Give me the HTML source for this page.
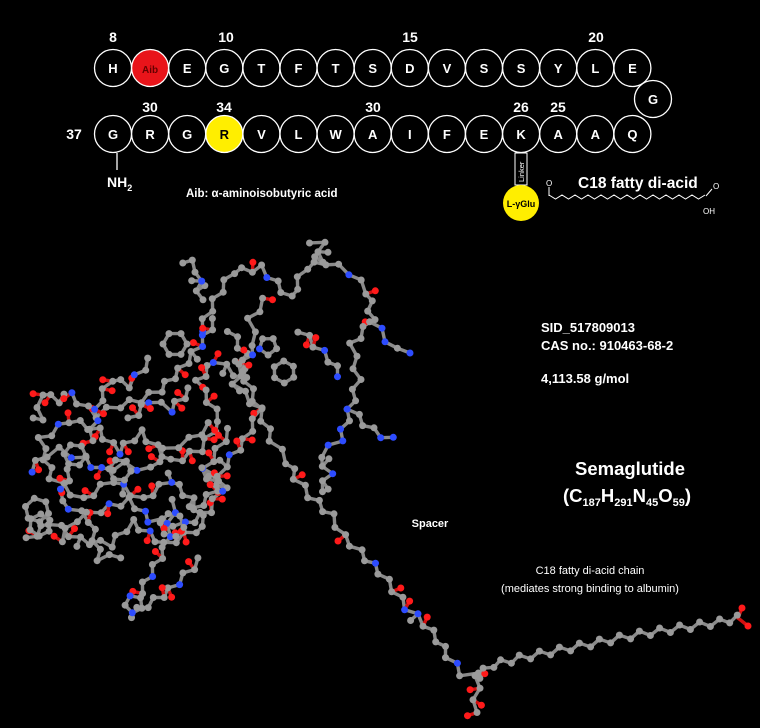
<!DOCTYPE html>
<html><head><meta charset="utf-8"><style>
html,body{margin:0;padding:0;background:#000;width:760px;height:728px;overflow:hidden}
svg{display:block}
text{font-family:"Liberation Sans",sans-serif;fill:#fff}
</style></head><body>
<svg id="s" width="760" height="728" viewBox="0 0 760 728" xmlns="http://www.w3.org/2000/svg">
<rect width="760" height="728" fill="#000"/>
<g id="seq" stroke="#fff" stroke-width="1.3" fill="none"></g>
<g id="seqt" font-weight="bold" text-anchor="middle"></g>
<g font-weight="bold" font-size="14" text-anchor="middle">
<text x="113" y="42">8</text><text x="226" y="42">10</text><text x="410" y="42">15</text><text x="596" y="42">20</text>
<text x="150" y="112">30</text><text x="224" y="112">34</text><text x="373" y="112">30</text><text x="521" y="112">26</text><text x="558" y="112">25</text>
<text x="74" y="139">37</text>
</g>
<line x1="117" y1="153" x2="117" y2="170" stroke="#fff" stroke-width="1.3"/>
<text x="107" y="187" font-size="14" font-weight="bold">NH<tspan font-size="9" dy="4">2</tspan></text>
<text x="186" y="197" font-size="11.5" font-weight="bold">Aib: α-aminoisobutyric acid</text>
<rect x="515" y="153" width="12" height="32" fill="#000" stroke="#fff" stroke-width="1"/>
<text x="0" y="0" font-size="7.5" transform="translate(524,182) rotate(-90)">Linker</text>
<ellipse cx="521" cy="203" rx="18" ry="18" fill="#ffee00"/>
<text x="521" y="207" font-size="9" font-weight="bold" text-anchor="middle" style="fill:#000">L-γGlu</text>
<polyline id="fatty" fill="none" stroke="#fff" stroke-width="1"/>
<line x1="549" y1="196" x2="549" y2="187" stroke="#fff" stroke-width="1"/>
<text x="546" y="186" font-size="8">O</text>
<text x="578" y="188" font-size="15.5" font-weight="bold">C18 fatty di-acid</text>
<line x1="706" y1="196" x2="712" y2="189" stroke="#fff" stroke-width="1"/>
<text x="713" y="189" font-size="8">O</text>
<text x="703" y="214" font-size="8">OH</text>
<g id="mol"></g>
<g font-weight="bold">
<text x="541" y="332" font-size="13">SID_517809013</text>
<text x="541" y="350" font-size="13">CAS no.: 910463-68-2</text>
<text x="541" y="383" font-size="13">4,113.58 g/mol</text>
<text x="630" y="475" font-size="18.5" text-anchor="middle">Semaglutide</text>
<text x="627" y="502" font-size="18.5" text-anchor="middle">(C<tspan font-size="11" dy="4">187</tspan><tspan dy="-4">H</tspan><tspan font-size="11" dy="4">291</tspan><tspan dy="-4">N</tspan><tspan font-size="11" dy="4">45</tspan><tspan dy="-4">O</tspan><tspan font-size="11" dy="4">59</tspan><tspan dy="-4">)</tspan></text>
<text x="430" y="527" font-size="11" text-anchor="middle">Spacer</text>
<text x="590" y="574" font-size="11" text-anchor="middle" font-weight="normal">C18 fatty di-acid chain</text>
<text x="590" y="592" font-size="11" text-anchor="middle" font-weight="normal">(mediates strong binding to albumin)</text>
</g>
</svg>
<script>
var NS="http://www.w3.org/2000/svg";
function el(p,t,a){var e=document.createElementNS(NS,t);for(var k in a)e.setAttribute(k,a[k]);p.appendChild(e);return e;}
var seq=document.getElementById('seq'),seqt=document.getElementById('seqt');
var r1="H,Aib,E,G,T,F,T,S,D,V,S,S,Y,L,E".split(","),r2="G,R,G,R,V,L,W,A,I,F,E,K,A,A,Q".split(",");
function circ(x,y,l,fill,tc){el(seq,'circle',{cx:x,cy:y,r:18.5,fill:fill||'#000'});var t=el(seqt,'text',{x:x,y:y+5,'font-size':l.length>1?10:13});t.textContent=l;if(tc)t.setAttribute('style','fill:'+tc);}
for(var i=0;i<15;i++){var x=113+i*37.1;circ(x,68,r1[i],i==1?'#e8141a':null,i==1?'#600':null);circ(x,134,r2[i],i==3?'#ffee00':null,i==3?'#000':null);}
circ(653,99,'G');
var pts=[];for(var x=549,k=0;x<=706;x+=6.5,k++)pts.push(x+','+(k%2?199:195));document.getElementById('fatty').setAttribute('points',pts.join(' '));
var seed=7;function rnd(){seed=(seed*16807)%2147483647;return seed/2147483647;}
var mol=document.getElementById('mol'),B=el(mol,'g',{stroke:'#8a8a8a','stroke-width':3.4,'stroke-linecap':'round'}),A=el(mol,'g',{});
var atoms=[];
function bond(a,b,c){el(B,'line',{x1:a[0],y1:a[1],x2:b[0],y2:b[1],stroke:c||'#8a8a8a'});}
function atom(p,c){atoms.push([p,c]);}
function path(w,opt){opt=opt||{};var L=11,prev=null,s=1;
 for(var j=0;j<w.length-1;j++){var a=w[j],b=w[j+1],dx=b[0]-a[0],dy=b[1]-a[1],d=Math.hypot(dx,dy),n=Math.max(1,Math.round(d/L)),nx=-dy/d,ny=dx/d;
  for(var q=(j==0?0:1);q<=n;q++){var t=q/n,p=[a[0]+dx*t+nx*3*s,a[1]+dy*t+ny*3*s];s=-s;
   var c='#9a9a9a';var r=rnd();if(r<(opt.n==null?0.13:opt.n))c='#2d4cff';
   if(prev)bond(prev,p);atom(p,c);
   if(rnd()<(opt.o==null?0.2:opt.o)){var ang=Math.atan2(dy,dx)+(s>0?1:-1)*Math.PI/2+(rnd()-.5);var o=[p[0]+Math.cos(ang)*10,p[1]+Math.sin(ang)*10];
     var red=rnd()<(opt.redp==null?0.75:opt.redp);bond(p,o,red?'#d01010':'#8a8a8a');atom(o,red?'#ff1a1a':'#9a9a9a');}
   prev=p;}}}
function ring(cx,cy,r,n,rot,nc){var P=[];for(var i=0;i<n;i++){var a=rot+i*2*Math.PI/n;P.push([cx+r*Math.cos(a),cy+r*Math.sin(a)]);}
 for(var i=0;i<n;i++){bond(P[i],P[(i+1)%n]);atom(P[i],nc&&nc.indexOf(i)>=0?'#2d4cff':'#9a9a9a');}}
path([[200,330],[215,300],[232,272],[262,268],[290,298],[305,268],[325,262],[350,272],[368,292],[372,320],[352,345],[358,380],[350,410],[372,430],[392,440]]);
path([[320,262],[322,242],[310,240]],{o:.3,redp:0});
path([[200,300],[198,272],[190,262]],{o:.3,redp:0});
path([[372,320],[395,350],[410,350]],{n:.2});
path([[350,410],[340,440],[320,455],[330,475],[320,490]],{n:.3});
path([[238,360],[255,400],[272,440],[288,462],[296,478],[310,496],[332,516],[343,536],[360,552],[380,572],[394,590],[407,608],[425,624],[438,640],[448,656],[462,674],[478,676]],{o:.15});
path([[478,676],[476,700],[474,712]],{o:.6});
path([[478,676],[492,665],[520,658],[560,650],[600,642],[640,634],[680,628],[720,622],[738,618]],{o:0,n:0});
el(B,'line',{x1:738,y1:618,x2:742,y2:608,stroke:'#d01010'});el(B,'line',{x1:738,y1:618,x2:748,y2:626,stroke:'#d01010'});atom([742,608],'#ff1a1a');atom([748,626],'#ff1a1a');
path([[245,380],[215,360],[198,382],[220,420],[200,450],[172,462],[140,432],[118,452],[98,430],[70,420],[40,440],[52,478],[82,500],[112,480],[142,500],[170,480],[192,500],[205,525],[165,545],[132,522],[110,545],[80,540],[50,522],[28,540]],{o:.3});
path([[190,390],[170,410],[150,400],[130,420]],{o:.35});
path([[230,430],[205,470],[225,490],[200,470]],{o:.4});
path([[40,420],[40,395],[60,400]],{o:.5});
path([[70,470],[60,500],[90,520],[100,560],[120,555]],{o:.3});
path([[175,500],[165,548],[150,575],[140,592]],{o:.2});
// extra density
path([[230,330],[245,355],[235,385],[260,410],[245,440],[225,465],[215,490],[195,510]],{o:.45});
path([[215,320],[200,345],[180,370],[160,390],[140,400],[120,405],[95,415],[70,395]],{o:.4});
path([[30,470],[45,455],[60,450],[85,460],[100,470],[125,465],[150,470],[165,450],[190,440],[210,425]],{o:.4});
path([[90,440],[100,400],[110,380],[130,385],[150,360]],{o:.4});
path([[60,540],[75,520],[100,510],[130,500],[150,520],[185,525],[210,510],[220,490]],{o:.4});
path([[265,300],[250,320],[255,345],[240,370]],{o:.4});
path([[300,330],[315,345],[330,360],[340,375]],{o:.3});
path([[200,560],[185,575],[170,590],[155,600],[130,615]],{o:.3});
ring(175,344,12,6,0);ring(284,372,11,6,0.5);ring(268,346,9,5,0.3,[2]);ring(37,510,12,6,0.3);ring(172,525,12,6,0.2);ring(134,604,9,5,0.5,[1,3]);ring(120,470,11,6,0.1);ring(75,455,11,6,0.1);ring(40,525,11,6,0.6);
atoms.forEach(function(a){el(A,'circle',{cx:a[0][0].toFixed(1),cy:a[0][1].toFixed(1),r:3.5,fill:a[1]});});
</script>
</body></html>
